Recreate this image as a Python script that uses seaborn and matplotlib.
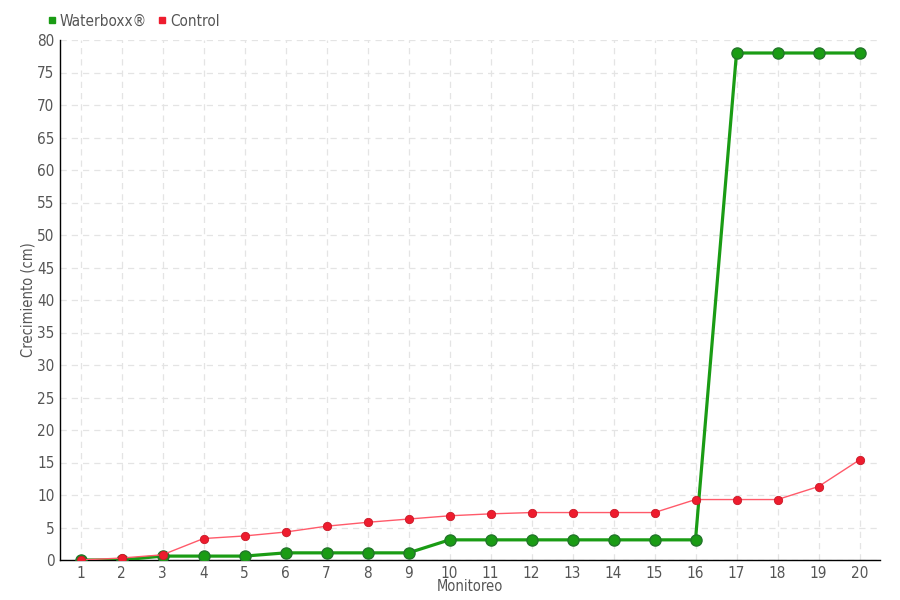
import matplotlib
matplotlib.use("Agg")
import matplotlib.pyplot as plt
import seaborn as sns
import pandas as pd
from matplotlib.lines import Line2D

monitoreo = [str(i) for i in range(1, 21)]
waterboxx = [0, 0, 0.6, 0.6, 0.6, 1.1, 1.1, 1.1, 1.1, 3.1, 3.1, 3.1, 3.1, 3.1, 3.1, 3.1, 78, 78, 78, 78]
control = [0, 0.3, 0.8, 3.3, 3.7, 4.3, 5.2, 5.8, 6.3, 6.8, 7.1, 7.3, 7.3, 7.3, 7.3, 9.3, 9.3, 9.3, 11.3, 15.4]
y_ticks = list(range(0, 81, 5))

sns.set_theme(style="white")
plt.rcParams['font.family'] = ['DejaVu Sans']
plt.rcParams['font.stretch'] = 'condensed'

df = pd.DataFrame({"pos": range(len(monitoreo)), "Waterboxx": waterboxx, "Control": control})

fig = plt.figure(figsize=(9, 6), dpi=100)
ax = fig.add_axes([60/900, 40/600, 820/900, 520/600])

green = "#1a9c14"
red = "#ee1c2e"
sns.lineplot(data=df, x="pos", y="Waterboxx", ax=ax, color=green, linewidth=2.3,
             marker="o", markersize=8, markerfacecolor=green, markeredgecolor="#22762a",
             markeredgewidth=1, zorder=3)
sns.lineplot(data=df, x="pos", y="Control", ax=ax, color="#ff5a6a", linewidth=1.0,
             marker="o", markersize=6, markerfacecolor=red, markeredgecolor="#c81a28",
             markeredgewidth=0.6, zorder=4)

ax.set_xlim(-0.5, len(monitoreo) - 0.5)
ax.set_ylim(0, 80)
ax.set_xticks(range(len(monitoreo)))
ax.set_xticklabels(monitoreo)
ax.set_yticks(y_ticks)
ax.tick_params(axis="both", labelcolor="#555555", labelsize=11, length=3, width=1, direction="out", pad=1)
ax.tick_params(axis="both", color="#333333")
ax.grid(True, color="#e4e4e4", linestyle=(0, (5, 4)), linewidth=0.9)
for s in ["top", "right"]:
    ax.spines[s].set_visible(False)
for s in ["left", "bottom"]:
    ax.spines[s].set_color("black")
    ax.spines[s].set_linewidth(1)

ax.set_xlabel("Monitoreo", color="#555555", fontsize=10.5, labelpad=-1)
ax.set_ylabel("Crecimiento (cm)", color="#555555", fontsize=10.5, labelpad=1)

handles = [Line2D([], [], linestyle="none", marker="s", markersize=4.5, color=green),
           Line2D([], [], linestyle="none", marker="s", markersize=4.5, color=red)]
fig.legend(handles, ["Waterboxx®", "Control"], loc="center left", bbox_to_anchor=(46/900, 1 - 21/600),
           ncol=2, frameon=False, fontsize=11, handletextpad=0.1, columnspacing=0.6,
           handlelength=0.8, labelcolor="#555555", borderaxespad=0, borderpad=0)

fig.savefig("out.png", dpi=100)
